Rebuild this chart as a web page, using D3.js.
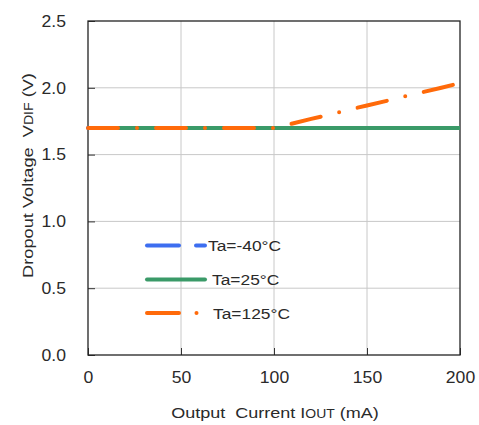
<!DOCTYPE html>
<html><head><meta charset="utf-8">
<script src="https://cdn.jsdelivr.net/npm/d3@7"></script>
<style>body{margin:0;background:#fff}svg{display:block}text{font-family:"Liberation Sans",Arial,sans-serif;fill:#2a2a2a}</style>
</head><body>
<script>
const currents = [0,10,20,30,40,50,60,70,80,90,100,110,120,130,140,150,160,170,180,190,200];
const vMinus40 = [1.7,1.7,1.7,1.7,1.7,1.7,1.7,1.7,1.7,1.7,1.7,1.7,1.7,1.7,1.7,1.7,1.7,1.7,1.7,1.7,1.7];
const v25 = [1.7,1.7,1.7,1.7,1.7,1.7,1.7,1.7,1.7,1.7,1.7,1.7,1.7,1.7,1.7,1.7,1.7,1.7,1.7,1.7,1.7];
const v125 = [1.7,1.7,1.7,1.7,1.7,1.7,1.7,1.7,1.7,1.7,1.7,1.733,1.767,1.8,1.835,1.868,1.9,1.935,1.968,2.0,2.035];
const xTicks = [0,50,100,150,200];
const yTicks = [0.0,0.5,1.0,1.5,2.0,2.5];
const seriesNames = ["Ta=-40°C","Ta=25°C","Ta=125°C"];
const seriesColors = ["#3d6ef0","#3a9a68","#ff6a0a"];
const seriesDash = ["35,15,12,15",null,"30,19,0,19"];

const W=479,H=425, L=88,R=460,T=21,B=355;
const svg=d3.select("body").append("svg").attr("width",W).attr("height",H);
const x=d3.scaleLinear().domain([0,200]).range([L,R]);
const y=d3.scaleLinear().domain([0,2.5]).range([B,T]);

function stretch(sel,k){
  sel.each(function(){const n=this.getComputedTextLength();
    d3.select(this).attr("textLength",n*k).attr("lengthAdjust","spacingAndGlyphs");});
}

// grid
svg.append("g").selectAll("line").data(xTicks.slice(1,-1)).join("line")
 .attr("x1",d=>x(d)).attr("x2",d=>x(d)).attr("y1",T).attr("y2",B).attr("stroke","#c8c8c8").attr("stroke-width",1);
svg.append("g").selectAll("line").data(yTicks.slice(1,-1)).join("line")
 .attr("y1",d=>y(d)).attr("y2",d=>y(d)).attr("x1",L).attr("x2",R).attr("stroke","#c8c8c8").attr("stroke-width",1);

// axes (ticks inside)
const xa=svg.append("g").attr("transform",`translate(0,${B})`)
 .call(d3.axisBottom(x).tickValues(xTicks).tickSizeInner(-7).tickSizeOuter(0).tickPadding(20).tickFormat(d3.format("d")));
const ya=svg.append("g").attr("transform",`translate(${L},0)`)
 .call(d3.axisLeft(y).tickValues(yTicks).tickSizeInner(-7).tickSizeOuter(0).tickPadding(22).tickFormat(d3.format(".1f")));
[xa,ya].forEach(a=>{a.select(".domain").remove();a.selectAll("line").attr("stroke","#333");
 a.selectAll("text").attr("font-size",16.3).attr("fill","#2a2a2a").style("font-family","'Liberation Sans',Arial,sans-serif");});
xa.selectAll("text").attr("dy","0.71em").attr("y",16.5);
ya.selectAll("text").attr("x",-22);
stretch(xa.selectAll("text"),1.08);
stretch(ya.selectAll("text"),1.08);

// frame
svg.append("rect").attr("x",L).attr("y",T).attr("width",R-L).attr("height",B-T).attr("fill","none").attr("stroke","#222").attr("stroke-width",1.3);

const line=d3.line().x((d,i)=>x(currents[i])).y(d=>y(d));
const all=[vMinus40,v25,v125];
all.forEach((s,i)=>{
 const p=svg.append("path").datum(s).attr("d",line).attr("fill","none")
  .attr("stroke",seriesColors[i]).attr("stroke-width",4).attr("stroke-linecap",i===1?"butt":"round");
 if(seriesDash[i]) p.attr("stroke-dasharray",seriesDash[i]);
});

// legend
const legY=[245.5,279.5,313];
const lg=svg.append("g");
seriesNames.forEach((n,i)=>{
 const g=lg.append("g");
 if(i===1){
  g.append("line").attr("x1",147).attr("x2",205).attr("y1",legY[i]).attr("y2",legY[i]).attr("stroke",seriesColors[i]).attr("stroke-width",4).attr("stroke-linecap","round");
 } else {
  g.append("line").attr("x1",147).attr("x2",179).attr("y1",legY[i]).attr("y2",legY[i]).attr("stroke",seriesColors[i]).attr("stroke-width",4).attr("stroke-linecap","round");
  if(i===0) g.append("line").attr("x1",196).attr("x2",205).attr("y1",legY[i]).attr("y2",legY[i]).attr("stroke",seriesColors[i]).attr("stroke-width",4).attr("stroke-linecap","round");
  else g.append("circle").attr("cx",196.5).attr("cy",legY[i]).attr("r",2).attr("fill",seriesColors[i]);
 }
 g.append("text").attr("x",[208,212,213][i]).attr("y",legY[i]).attr("dy","0.36em").attr("font-size",15.5).text(n);
});
stretch(lg.selectAll("text"),1.12);

// axis titles
const xt=svg.append("text").attr("text-anchor","middle").attr("font-size",15.5);
xt.append("tspan").text("Output\u00a0 Current I");
xt.append("tspan").attr("font-size",12).text("OUT");
xt.append("tspan").text(" (mA)");
const kx=208/xt.node().getComputedTextLength();
xt.attr("transform",`translate(275,418) scale(${kx},1)`);
const yt=svg.append("text").attr("text-anchor","middle").attr("font-size",15.5);
yt.append("tspan").text("Dropout Voltage\u00a0 V");
yt.append("tspan").attr("font-size",12).text("DIF");
yt.append("tspan").text(" (V)");
const ky=205/yt.node().getComputedTextLength();
yt.attr("transform",`translate(33,175.5) rotate(-90) scale(${ky},1)`);
</script>
</body></html>
